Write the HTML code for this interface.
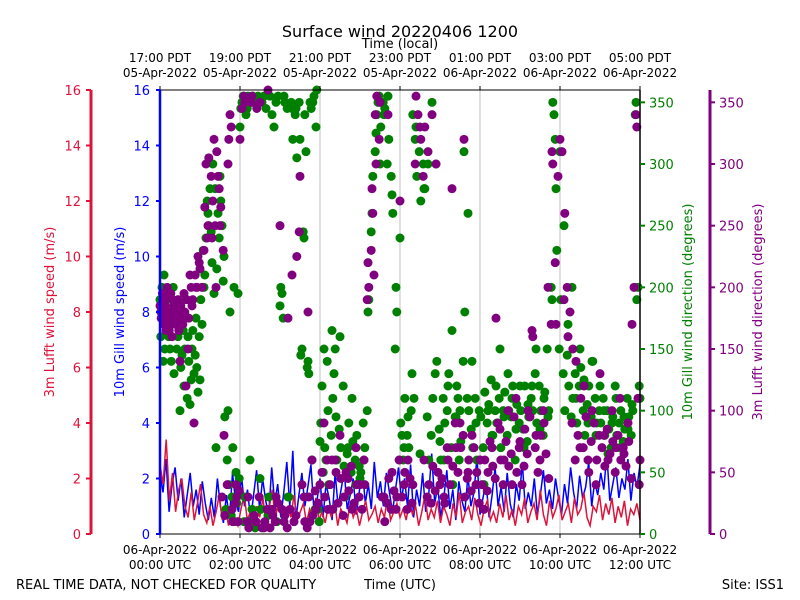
<!DOCTYPE html>
<html><head><meta charset="utf-8">
<style>
html,body{margin:0;padding:0;background:#fff;}
svg{display:block;font-family:"DejaVu Sans","Liberation Sans",sans-serif;}
</style></head>
<body>
<svg id="chart" width="800" height="600" viewBox="0 0 800 600">
<text x="400" y="37" font-size="16" text-anchor="middle">Surface wind 20220406 1200</text>
<text x="400" y="48" font-size="13" text-anchor="middle">Time (local)</text>
<text x="400" y="589" font-size="13" text-anchor="middle">Time (UTC)</text>
<text x="16" y="589" font-size="13">REAL TIME DATA, NOT CHECKED FOR QUALITY</text>
<text x="784" y="589" font-size="13" text-anchor="end">Site: ISS1</text>
<text transform="translate(54,312) rotate(-90)" font-size="13" fill="#dc143c" text-anchor="middle">3m Lufft wind speed (m/s)</text>
<text transform="translate(124,312) rotate(-90)" font-size="13" fill="#0000ff" text-anchor="middle">10m Gill wind speed (m/s)</text>
<text transform="translate(692,312) rotate(-90)" font-size="13" fill="#008000" text-anchor="middle">10m Gill wind direction (degrees)</text>
<text transform="translate(762,312) rotate(-90)" font-size="13" fill="#800080" text-anchor="middle">3m Lufft wind direction (degrees)</text>
<g id="grid"></g><g id="lines"></g><g id="dots"></g><g id="axes"></g>
</svg>
<script>
const utcTicks=["06-Apr-2022|00:00 UTC","06-Apr-2022|02:00 UTC","06-Apr-2022|04:00 UTC","06-Apr-2022|06:00 UTC","06-Apr-2022|08:00 UTC","06-Apr-2022|10:00 UTC","06-Apr-2022|12:00 UTC"];
const localTicks=["17:00 PDT|05-Apr-2022","19:00 PDT|05-Apr-2022","21:00 PDT|05-Apr-2022","23:00 PDT|05-Apr-2022","01:00 PDT|06-Apr-2022","03:00 PDT|06-Apr-2022","05:00 PDT|06-Apr-2022"];
const tickHours=[0,2,4,6,8,10,12];
const speedTicks=[0,2,4,6,8,10,12,14,16];
const dirTicks=[0,50,100,150,200,250,300,350];
const gillSpeed=[2.2,1.5,2.7,0.8,1.8,2.4,1.2,2.0,0.6,1.4,2.2,1.0,1.6,0.7,1.9,1.1,0.5,1.3,0.6,2.0,1.0,0.4,1.4,0.5,2.2,1.2,0.8,2.1,1.0,1.6,0.5,1.4,2.3,0.9,2.0,1.2,0.7,2.4,1.1,1.8,0.6,1.5,2.6,1.0,3.0,0.5,1.4,2.2,1.0,1.7,2.5,0.8,1.2,2.0,0.6,1.8,1.3,0.5,2.2,1.0,1.6,2.3,0.9,1.4,2.0,0.7,1.5,2.4,1.1,1.8,0.9,2.6,1.3,1.9,1.0,2.2,1.5,0.8,1.6,2.4,1.2,2.0,1.0,2.5,0.6,1.6,1.0,2.2,0.8,1.4,2.9,1.1,1.7,0.6,1.3,2.3,0.9,1.6,0.5,1.9,1.2,0.8,2.1,1.0,1.5,2.8,0.7,1.3,1.9,0.6,1.4,2.4,1.0,1.7,0.8,2.2,1.1,0.6,1.8,1.2,2.6,0.9,1.5,1.0,2.0,0.7,1.4,2.3,1.1,1.6,0.9,2.0,1.3,0.7,1.8,1.1,2.4,1.5,0.9,2.1,1.3,1.7,2.6,1.0,1.9,1.4,2.2,1.6,2.9,1.2,1.8,2.4,1.3,2.0,1.6,2.7,1.2,2.2,1.7,2.5];
const lufftSpeed=[2.5,1.8,3.4,1.2,2.2,0.8,1.6,2.0,1.0,0.6,1.5,0.5,1.1,1.8,0.7,0.4,1.0,0.3,0.8,1.4,0.5,0.9,0.3,1.1,0.6,0.3,0.9,1.4,0.5,0.8,0.3,1.0,0.6,1.3,0.4,0.9,1.6,0.5,1.2,0.7,0.3,1.0,0.6,1.4,0.5,0.8,1.1,0.4,0.9,0.6,1.3,0.5,0.8,0.4,1.0,0.6,1.2,0.3,0.9,0.7,0.4,1.1,0.6,0.9,0.3,0.8,1.2,0.5,0.7,1.0,0.4,0.9,0.6,1.3,0.5,0.8,1.1,0.6,0.9,0.5,1.2,0.7,1.0,0.3,0.8,1.4,0.5,0.9,0.6,1.2,0.4,1.0,0.7,0.3,1.1,0.6,1.5,0.4,0.8,1.0,0.5,1.3,0.7,0.3,0.9,1.2,0.5,0.8,0.4,1.1,0.6,1.4,0.5,0.9,0.3,1.0,0.7,1.3,0.4,0.8,1.1,0.5,1.6,0.7,0.3,1.2,0.6,0.9,1.4,0.5,0.8,1.1,0.4,1.3,0.7,0.9,1.5,0.6,0.3,1.0,0.8,1.4,0.5,1.1,0.7,1.3,0.4,1.0,0.6,1.2,0.3,0.9,0.7,1.1,0.5];
const gillDirTime=[0.0,0.02,0.05,0.08,0.1,0.15,0.2,0.25,0.3,0.35,0.4,0.45,0.5,0.55,0.6,0.65,0.7,0.75,0.8,0.85,0.9,0.95,1.0,1.05,1.1,1.15,1.2,1.25,1.3,1.35,1.4,1.45,1.5,1.55,1.6,1.65,1.7,1.75,1.8,1.85,1.9,1.95,2.0,2.05,2.1,2.15,2.2,2.25,2.3,2.4,2.5,2.6,2.7,2.8,2.9,3.0,3.05,3.1,3.2,3.3,3.4,3.5,3.55,3.6,3.65,3.7,3.75,3.8,3.85,3.9,3.95,4.0,4.05,4.1,4.15,4.2,4.3,4.35,4.4,4.5,4.6,4.7,4.8,4.9,5.0,5.1,5.2,5.3,5.4,5.45,5.5,5.6,5.7,5.8,5.9,6.0,6.05,6.1,6.2,6.3,6.35,6.4,6.5,6.6,6.7,6.8,6.9,7.0,7.1,7.2,7.3,7.4,7.45,7.5,7.6,7.7,7.8,7.9,8.0,8.1,8.2,8.3,8.4,8.5,8.6,8.7,8.8,8.9,9.0,9.1,9.2,9.3,9.4,9.5,9.6,9.7,9.8,9.85,9.9,10.0,10.1,10.2,10.3,10.4,10.5,10.6,10.7,10.8,10.9,11.0,11.1,11.2,11.3,11.4,11.5,11.6,11.7,11.8,11.9,11.95,12.0];
const gillDir=[190,160,200,140,210,180,170,150,190,130,175,160,100,145,120,190,160,105,150,130,175,115,125,170,200,240,260,280,220,195,70,260,290,250,225,20,100,180,30,200,50,195,330,350,10,340,355,60,20,350,45,355,15,340,350,185,195,355,30,345,345,320,150,240,310,140,350,60,355,330,20,75,120,150,60,100,165,130,95,160,55,70,110,40,45,60,180,260,325,350,300,340,355,275,200,240,80,70,95,130,110,330,65,280,300,350,300,75,60,120,165,95,110,100,310,260,140,90,60,40,100,80,120,150,95,130,110,85,120,70,105,120,150,85,110,95,190,340,280,310,250,170,200,110,150,125,90,140,80,120,100,65,90,110,70,95,85,105,350,200,110];
const gillDirTimeB=[0.05,0.12,0.18,0.22,0.28,0.33,0.38,0.42,0.48,0.52,0.58,0.62,0.68,0.72,0.78,0.82,0.88,0.92,0.98,1.02,1.08,1.12,1.18,1.22,1.28,1.32,1.38,1.42,1.48,1.52,1.58,1.62,1.68,1.72,1.78,1.82,1.88,1.92,1.98,2.02,2.08,2.12,2.18,2.22,2.28,2.32,2.38,2.45,2.55,2.65,2.75,2.85,2.95,2.52,2.72,2.92,3.02,3.08,3.12,3.18,3.22,3.28,3.32,3.38,3.42,3.48,3.52,3.58,3.62,3.68,3.72,3.78,3.82,3.88,3.92,3.98,4.02,4.08,4.12,4.18,4.22,4.28,4.32,4.38,4.42,4.48,4.52,4.58,4.62,4.68,4.72,4.78,4.82,4.88,4.92,4.98,5.02,5.08,5.12,5.18,5.22,5.28,5.32,5.38,5.42,5.48,5.52,5.58,5.62,5.68,5.72,5.78,5.82,5.88,5.92,5.98,6.02,6.08,6.12,6.18,6.22,6.28,6.32,6.38,6.42,6.48,6.52,6.58,6.62,6.68,6.72,6.78,6.82,6.88,6.92,6.98,7.02,7.08,7.12,7.18,7.22,7.28,7.32,7.38,7.42,7.48,7.52,7.58,7.62,7.68,7.72,7.78,7.82,7.88,7.92,7.98,8.02,8.08,8.12,8.18,8.22,8.28,8.32,8.38,8.42,8.48,8.52,8.58,8.62,8.68,8.72,8.78,8.82,8.88,8.92,8.98,9.02,9.08,9.12,9.18,9.22,9.28,9.32,9.38,9.42,9.48,9.52,9.58,9.62,9.68,9.72,9.78,9.82,9.88,9.92,9.98,10.02,10.08,10.12,10.18,10.22,10.28,10.32,10.38,10.42,10.48,10.52,10.58,10.62,10.68,10.72,10.78,10.82,10.88,10.92,10.98,11.02,11.08,11.12,11.18,11.22,11.28,11.32,11.38,11.42,11.48,11.52,11.58,11.62,11.68,11.72,11.78,11.82,11.88,11.92,11.98];
const gillDirB=[175,150,195,160,140,200,185,150,170,135,165,150,110,140,125,165,145,135,160,190,230,210,270,250,245,300,280,215,240,270,205,95,60,40,15,70,10,25,45,345,355,30,345,10,350,355,5,355,350,345,355,330,355,20,30,10,200,175,350,345,30,350,320,340,305,350,145,245,340,135,130,345,350,20,360,10,90,50,70,140,40,80,110,150,60,85,70,120,30,65,90,50,75,60,80,55,50,90,70,100,190,245,290,310,340,355,330,350,345,300,320,290,260,150,180,60,90,60,110,80,70,100,340,320,290,310,270,300,280,95,60,80,110,130,140,85,60,110,90,100,130,70,40,95,120,60,75,140,180,110,100,85,70,110,60,100,95,70,115,90,105,125,80,100,90,110,70,100,115,80,100,95,120,60,105,90,100,85,120,75,95,110,100,130,90,120,100,80,115,150,100,200,350,320,230,150,190,130,100,145,120,95,110,130,90,120,135,100,80,105,120,95,140,110,90,100,90,110,80,100,85,70,95,120,80,90,100,75,85,110,95,80,100,340,190,120];
const lufftDirTime=[0.0,0.03,0.06,0.09,0.12,0.15,0.18,0.21,0.24,0.27,0.3,0.35,0.4,0.45,0.5,0.55,0.6,0.65,0.7,0.75,0.8,0.85,0.9,0.95,1.0,1.1,1.15,1.2,1.3,1.35,1.4,1.45,1.5,1.55,1.6,1.7,1.75,1.8,1.9,1.95,2.0,2.1,2.2,2.3,2.4,2.5,2.6,2.7,2.8,2.9,3.0,3.1,3.2,3.3,3.4,3.5,3.6,3.7,3.75,3.8,3.9,4.0,4.1,4.2,4.3,4.4,4.5,4.6,4.7,4.8,4.9,5.0,5.1,5.2,5.3,5.35,5.4,5.5,5.6,5.7,5.8,5.9,6.0,6.1,6.2,6.3,6.4,6.5,6.6,6.7,6.8,6.9,7.0,7.1,7.2,7.3,7.4,7.5,7.6,7.7,7.8,7.9,8.0,8.1,8.2,8.3,8.4,8.5,8.6,8.7,8.8,8.9,9.0,9.1,9.2,9.3,9.4,9.5,9.6,9.7,9.8,9.9,10.0,10.1,10.2,10.3,10.4,10.5,10.6,10.7,10.8,10.9,11.0,11.1,11.2,11.3,11.4,11.5,11.6,11.7,11.8,11.9,11.95,12.0];
const lufftDir=[185,175,195,170,190,165,200,180,175,195,160,185,170,190,140,175,195,120,150,210,185,90,200,225,215,230,300,250,240,320,200,290,250,30,80,300,340,20,40,10,320,355,30,355,10,350,5,360,20,30,250,10,175,210,15,290,30,180,10,60,20,40,90,20,60,50,80,30,45,20,70,40,60,220,280,210,300,350,30,340,50,20,270,40,60,25,355,330,60,310,340,300,40,30,60,280,70,90,320,50,80,40,60,20,50,70,175,85,60,100,40,110,75,55,100,165,80,60,90,200,310,170,320,190,160,90,140,70,120,60,100,40,130,80,60,100,70,110,65,90,170,340,110,60];
const lufftDirTimeB=[0.02,0.07,0.11,0.14,0.17,0.2,0.23,0.26,0.29,0.32,0.37,0.42,0.47,0.52,0.57,0.62,0.67,0.72,0.78,0.82,0.88,0.93,0.98,1.05,1.12,1.18,1.22,1.28,1.32,1.38,1.42,1.48,1.52,1.58,1.62,1.68,1.72,1.78,1.82,1.88,1.92,1.98,2.05,2.12,2.18,2.22,2.28,2.35,2.42,2.48,2.55,2.62,2.68,2.75,2.82,2.88,2.95,3.05,3.12,3.18,3.25,3.35,3.42,3.48,3.55,3.62,3.68,3.72,3.82,3.88,3.95,4.05,4.12,4.18,4.25,4.32,4.38,4.45,4.52,4.58,4.65,4.72,4.78,4.85,4.92,4.98,5.05,5.12,5.18,5.22,5.28,5.32,5.38,5.42,5.48,5.55,5.62,5.68,5.72,5.78,5.85,5.92,5.98,6.05,6.12,6.18,6.25,6.32,6.38,6.45,6.52,6.58,6.62,6.68,6.72,6.78,6.82,6.88,6.95,7.05,7.12,7.18,7.25,7.32,7.38,7.45,7.52,7.58,7.62,7.68,7.72,7.78,7.85,7.92,7.98,8.05,8.12,8.18,8.25,8.32,8.38,8.45,8.52,8.58,8.65,8.72,8.78,8.85,8.92,8.98,9.05,9.12,9.18,9.25,9.32,9.38,9.45,9.52,9.58,9.65,9.72,9.78,9.82,9.88,9.95,10.05,10.12,10.18,10.25,10.32,10.38,10.45,10.52,10.58,10.65,10.72,10.78,10.85,10.92,10.98,11.05,11.12,11.18,11.25,11.32,11.38,11.45,11.52,11.58,11.65,11.72,11.78,11.85,11.92,11.98];
const lufftDirB=[180,190,170,185,175,195,165,180,170,190,175,180,165,185,170,180,190,175,200,190,210,200,220,200,265,240,305,290,270,250,310,280,265,230,15,40,320,330,10,25,30,35,345,350,10,5,350,15,345,30,5,10,20,5,15,10,25,20,15,5,20,10,225,245,40,10,5,30,15,35,25,50,30,60,40,20,60,25,45,15,50,35,55,25,40,30,20,40,190,200,230,260,340,355,320,30,10,25,45,20,35,30,60,30,50,20,45,40,300,340,320,290,330,30,40,25,55,35,50,45,25,70,40,55,90,50,70,80,30,45,60,35,70,50,25,40,60,35,75,55,45,90,60,40,75,55,65,95,50,70,40,85,65,95,160,70,50,80,100,65,45,170,300,220,290,310,260,200,180,150,60,80,110,70,95,50,75,90,60,80,70,55,85,65,75,50,80,60,70,55,75,45,200,330,40];

const NS='http://www.w3.org/2000/svg';
const X0=160,X1=640,Y0=534,Y1=90;
const xT=h=>X0+(h/12)*(X1-X0);
const yS=v=>Y0-(v/16)*(Y0-Y1);
const yD=v=>Y0-(v/360)*(Y0-Y1);
function mk(tag,attrs,parent){const e=document.createElementNS(NS,tag);for(const k in attrs)e.setAttribute(k,attrs[k]);parent.appendChild(e);return e;}
const grid=document.getElementById('grid'),lines=document.getElementById('lines'),dots=document.getElementById('dots'),axes=document.getElementById('axes');

tickHours.forEach((h,i)=>{
  if(i>0&&i<tickHours.length-1){const g=mk('line',{x1:xT(h),x2:xT(h),y1:Y1,y2:Y0,stroke:'#b0b0b0','stroke-width':0.8},grid);
  
  }
  const b=utcTicks[i].split('|');
  mk('line',{x1:xT(h),x2:xT(h),y1:Y0,y2:Y0+4,stroke:'#000','stroke-width':1},axes);
  const t1=mk('text',{x:xT(h),y:554,'font-size':12,'text-anchor':'middle'},axes);t1.textContent=b[0];
  
  
  const t2=mk('text',{x:xT(h),y:569,'font-size':12,'text-anchor':'middle'},axes);t2.textContent=b[1];
  
  
  const l=localTicks[i].split('|');
  mk('line',{x1:xT(h),x2:xT(h),y1:Y1,y2:Y1-4,stroke:'#000','stroke-width':1},axes);
  const t3=mk('text',{x:xT(h),y:62,'font-size':12,'text-anchor':'middle'},axes);t3.textContent=l[0];
  
  
  const t4=mk('text',{x:xT(h),y:77,'font-size':12,'text-anchor':'middle'},axes);t4.textContent=l[1];
  
  
});

function line(arr,color,name){
  const step=12/(arr.length-1);
  const d=arr.map((v,i)=>(i?'L':'M')+xT(i*step).toFixed(1)+','+yS(v).toFixed(1)).join(' ');
  const p=mk('path',{d:d,fill:'none',stroke:color,'stroke-width':1.5},lines);
  
  
}
line(gillSpeed,'#0000ff','gill-speed-line');
line(lufftSpeed,'#dc143c','lufft-speed-line');

function pts(ts,vs,color,name){
  ts.forEach((t,i)=>{const c=mk('circle',{cx:xT(t),cy:yD(vs[i]),r:4.5,fill:color},dots);
    
    });
}
pts(gillDirTime,gillDir,'#008000','gill-direction-point');
pts(gillDirTimeB,gillDirB,'#008000','gill-direction-point');
pts(lufftDirTime,lufftDir,'#800080','lufft-direction-point');
pts(lufftDirTimeB,lufftDirB,'#800080','lufft-direction-point');

mk('line',{x1:X0,x2:X1,y1:Y1,y2:Y1,stroke:'#000','stroke-width':1},axes);
mk('line',{x1:X0,x2:X1,y1:Y0,y2:Y0,stroke:'#000','stroke-width':1},axes);
mk('line',{x1:X1,x2:X1,y1:Y1,y2:Y0,stroke:'#000','stroke-width':1.5},axes);
const sp1=mk('line',{x1:X0,x2:X0,y1:Y1,y2:Y0,stroke:'#0000ff','stroke-width':2.5},axes);


const sp2=mk('line',{x1:91,x2:91,y1:Y1,y2:Y0,stroke:'#dc143c','stroke-width':3},axes);


const sp3=mk('line',{x1:710,x2:710,y1:Y1,y2:Y0,stroke:'#800080','stroke-width':3},axes);



speedTicks.forEach(v=>{
  mk('line',{x1:156,x2:160,y1:yS(v),y2:yS(v),stroke:'#0000ff','stroke-width':2},axes);
  mk('line',{x1:86,x2:91,y1:yS(v),y2:yS(v),stroke:'#dc143c','stroke-width':2},axes);
  const a=mk('text',{x:150,y:yS(v)+5,'font-size':13,fill:'#0000ff','text-anchor':'end'},axes);a.textContent=v;
  
  
  const b=mk('text',{x:81,y:yS(v)+5,'font-size':13,fill:'#dc143c','text-anchor':'end'},axes);b.textContent=v;
  
  
});
dirTicks.forEach(v=>{
  mk('line',{x1:640,x2:645,y1:yD(v),y2:yD(v),stroke:'#008000','stroke-width':2},axes);
  mk('line',{x1:710,x2:715,y1:yD(v),y2:yD(v),stroke:'#800080','stroke-width':2},axes);
  const a=mk('text',{x:649,y:yD(v)+5,'font-size':13,fill:'#008000'},axes);a.textContent=v;
  
  
  const b=mk('text',{x:719,y:yD(v)+5,'font-size':13,fill:'#800080'},axes);b.textContent=v;
  
  
});
</script>
</body></html>
